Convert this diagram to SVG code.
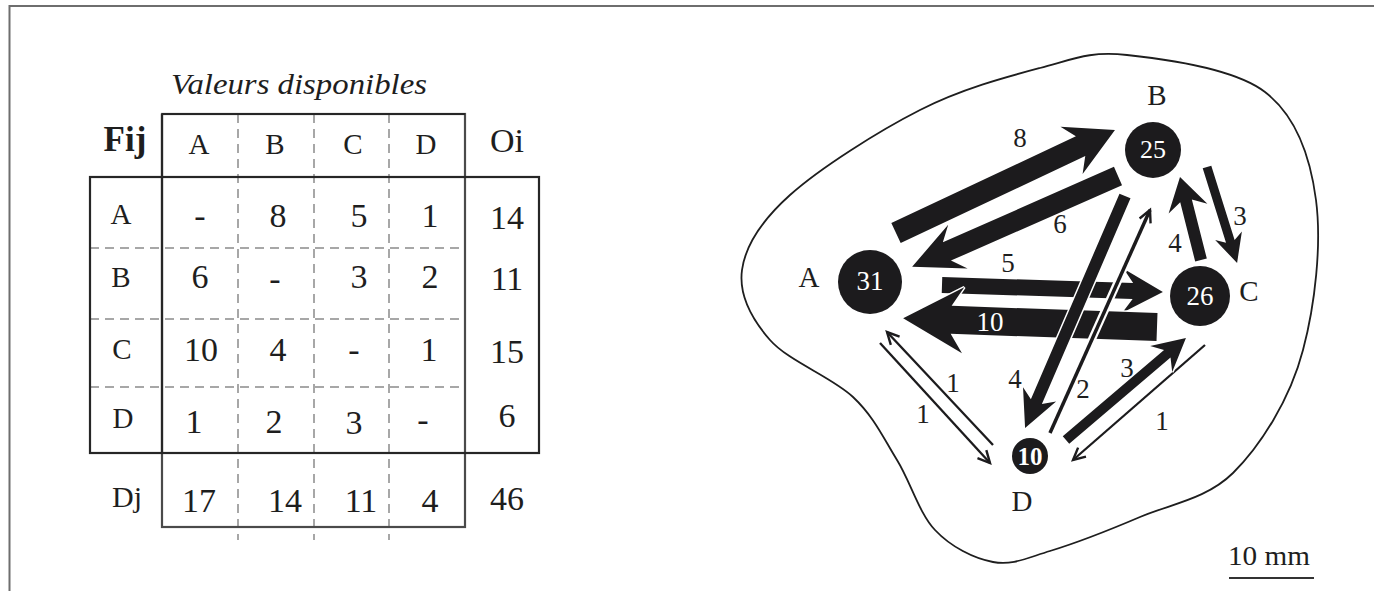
<svg xmlns="http://www.w3.org/2000/svg" width="1374" height="591" viewBox="0 0 1374 591">
<style>
  text{font-family:"Liberation Serif","Times New Roman",serif;fill:#1e1e1e}
  .num{font-size:34px;text-anchor:middle}
  .hd{font-size:29px;text-anchor:middle}
  .gl{font-size:27px;text-anchor:middle}
  .nd{font-size:29px;text-anchor:middle}
  .nv{font-size:27px;text-anchor:middle;fill:#fff}
  .box{fill:none;stroke:#262626;stroke-width:2.2}
  .box2{fill:none;stroke:#4a4a4a;stroke-width:2.2}
  .dash{stroke:#8a8a8a;stroke-width:1.5;stroke-dasharray:9 6;fill:none}
  .frame{stroke:#6e6e6e;stroke-width:2;fill:none}
  .fat{fill:#1c1b1d;stroke:#fff;stroke-width:3;paint-order:stroke;stroke-linejoin:miter}
  .thin{stroke:#1c1b1d;fill:none;marker-end:url(#open)}
  .halo{stroke:#fff;fill:none}
  .node{fill:#1c1b1d}
  .outline{fill:none;stroke:#1e1e1e;stroke-width:1.8}
</style>
<defs>
  <marker id="open" viewBox="0 0 20 20" refX="17" refY="10" markerWidth="20" markerHeight="20" markerUnits="userSpaceOnUse" orient="auto">
    <path d="M5,4 L17,10 L5,16" fill="none" stroke="#1c1b1d" stroke-width="2.4"/>
  </marker>
</defs>

<!-- page frame -->
<path class="frame" d="M9.5,591 V6 H1374"/>

<!-- origin / destination matrix -->
<g id="table">
  <text x="171" y="94" font-size="30" font-style="italic" textLength="256" lengthAdjust="spacingAndGlyphs">Valeurs disponibles</text>
  <g>
    <line class="dash" x1="238" y1="114" x2="238" y2="540"/>
    <line class="dash" x1="314" y1="114" x2="314" y2="540"/>
    <line class="dash" x1="389" y1="114" x2="389" y2="540"/>
    <line class="dash" x1="90" y1="248" x2="465" y2="248"/>
    <line class="dash" x1="90" y1="319" x2="465" y2="319"/>
    <line class="dash" x1="90" y1="387" x2="465" y2="387"/>
  </g>
  <rect class="box2" x="162" y="114" width="303" height="413"/>
  <rect class="box" x="90" y="177" width="449" height="276"/>
  <line class="box" x1="162" y1="114" x2="162" y2="453"/>
  <line class="box" x1="162" y1="114" x2="465" y2="114"/>

  <text x="125" y="151" font-size="35" font-weight="bold" text-anchor="middle">Fij</text>
  <text class="hd" x="199" y="154">A</text>
  <text class="hd" x="275" y="154">B</text>
  <text class="hd" x="353" y="154">C</text>
  <text class="hd" x="426" y="154">D</text>
  <text x="507" y="152" font-size="34" text-anchor="middle">Oi</text>

  <text class="hd" x="121" y="224">A</text>
  <text class="num" x="200" y="227">-</text>
  <text class="num" x="278" y="227">8</text>
  <text class="num" x="359" y="227">5</text>
  <text class="num" x="430" y="227">1</text>
  <text class="num" x="507" y="229">14</text>

  <text class="hd" x="121" y="287">B</text>
  <text class="num" x="200" y="288">6</text>
  <text class="num" x="275" y="290">-</text>
  <text class="num" x="359" y="288">3</text>
  <text class="num" x="430" y="288">2</text>
  <text class="num" x="507" y="290">11</text>

  <text class="hd" x="122" y="359">C</text>
  <text class="num" x="201" y="361">10</text>
  <text class="num" x="278" y="361">4</text>
  <text class="num" x="354" y="361">-</text>
  <text class="num" x="429" y="361">1</text>
  <text class="num" x="507" y="363">15</text>

  <text class="hd" x="123" y="428">D</text>
  <text class="num" x="194" y="433">1</text>
  <text class="num" x="274" y="433">2</text>
  <text class="num" x="354" y="434">3</text>
  <text class="num" x="423" y="431">-</text>
  <text class="num" x="507" y="427">6</text>

  <text x="127" y="507" font-size="30" text-anchor="middle">Dj</text>
  <text class="num" x="199" y="512">17</text>
  <text class="num" x="285" y="512">14</text>
  <text class="num" x="361" y="512">11</text>
  <text class="num" x="430" y="512">4</text>
  <text class="num" x="507" y="510">46</text>
</g>

<!-- study area outline -->
<path id="area" class="outline" d="M1127,55 C1164.5,59 1233.5,67.8 1265,92 C1296.5,116.2 1310.2,155.3 1316,200 C1321.8,244.7 1315,305 1303,350 C1290,400 1259.7,446.8 1233,473 C1206.3,499.2 1170.5,504 1140,517 C1109.5,530 1074.5,543.5 1050,551 C1025.5,558.5 1012.2,565.5 993,562 C973.8,558.5 951,547 935,530 C919,513 910.7,482.2 897,460 C883.3,437.8 874.2,417 853,397 C831.8,377 788.5,361.2 770,340 C751.5,318.8 738.7,294.2 742,270 C745.3,245.8 760.3,221.7 790,195 C819.7,168.3 878.3,131.2 920,110 C961.7,88.8 1005.5,77.2 1040,68 C1074.5,58.8 1089.5,51 1127,55 Z"/>

<!-- flows -->
<g id="connectors">
  <line class="thin" x1="880" y1="343" x2="990" y2="463" stroke-width="2.3"/>
  <line class="thin" x1="993" y1="445" x2="887" y2="332" stroke-width="2.3"/>
  <line class="thin" x1="1205" y1="345" x2="1073" y2="460" stroke-width="2.3"/>

  <polygon class="fat" transform="translate(1118,176) rotate(156.2)" points="0,-10 187,-10 175,-24 225,0 175,24 187,10 0,10"/>
  <polygon class="fat" transform="translate(896,233) rotate(-25.2)" points="0,-11 204,-11 194,-26 242,0 194,26 204,11 0,11"/>
  <polygon class="fat" transform="translate(942,285) rotate(1.8)" points="0,-8 191,-8 181,-22 221,0 181,22 191,8 0,8"/>
  <polygon class="fat" transform="translate(1157,327) rotate(-178)" points="0,-14 206,-14 194,-33 254,0 194,33 206,14 0,14"/>

  <line class="halo" x1="1050" y1="433" x2="1148" y2="214" stroke-width="8"/>
  <line class="thin" x1="1050" y1="433" x2="1150" y2="210" stroke-width="3.5"/>
  <polygon class="fat" transform="translate(1125,196) rotate(113.3)" points="0,-6 224,-6 216,-18 252.6,0 216,18 224,6 0,6"/>
  <polygon class="fat" transform="translate(1066,440) rotate(-40.4)" points="0,-5 133,-5 125,-17 157.5,0 125,17 133,5 0,5"/>

  <polygon class="fat" transform="translate(1207,167) rotate(72.6)" points="0,-4.5 78,-4.5 72,-14 100.6,0 72,14 78,4.5 0,4.5"/>
  <polygon class="fat" transform="translate(1201,260) rotate(-104.2)" points="0,-6 61,-6 53,-20 85.6,0 53,20 61,6 0,6"/>

  <text class="gl" x="1020" y="147">8</text>
  <text class="gl" x="1060" y="233">6</text>
  <text class="gl" x="1008" y="272">5</text>
  <text class="gl" x="990" y="331" fill="#fff" style="fill:#fff">10</text>
  <text class="gl" x="1240" y="225">3</text>
  <text class="gl" x="1175" y="252">4</text>
  <text class="gl" x="1015" y="388">4</text>
  <text class="gl" x="1083" y="398">2</text>
  <text class="gl" x="1127" y="377">3</text>
  <text class="gl" x="1162" y="430">1</text>
  <text class="gl" x="923" y="423">1</text>
  <text class="gl" x="953" y="392">1</text>
</g>

<!-- zones -->
<g id="node-A">
  <circle class="node" cx="870" cy="282" r="32"/>
  <text class="nv" x="870" y="290" font-size="28">31</text>
  <text class="nd" x="809" y="287">A</text>
</g>
<g id="node-B">
  <circle class="node" cx="1153" cy="150" r="28"/>
  <text class="nv" x="1153" y="158" style="font-size:26px">25</text>
  <text class="nd" x="1157" y="105">B</text>
</g>
<g id="node-C">
  <circle class="node" cx="1200" cy="296" r="30"/>
  <text class="nv" x="1200" y="305">26</text>
  <text class="nd" x="1249" y="301">C</text>
</g>
<g id="node-D">
  <circle class="node" cx="1030" cy="456" r="18"/>
  <text class="nv" x="1030" y="465" style="font-size:25px;font-weight:bold">10</text>
  <text class="nd" x="1022" y="511">D</text>
</g>

<!-- scale bar -->
<g id="scale">
  <text x="1228" y="565" font-size="27" textLength="82" lengthAdjust="spacingAndGlyphs">10 mm</text>
  <line x1="1229" y1="578" x2="1314" y2="578" stroke="#333" stroke-width="2"/>
</g>
</svg>
